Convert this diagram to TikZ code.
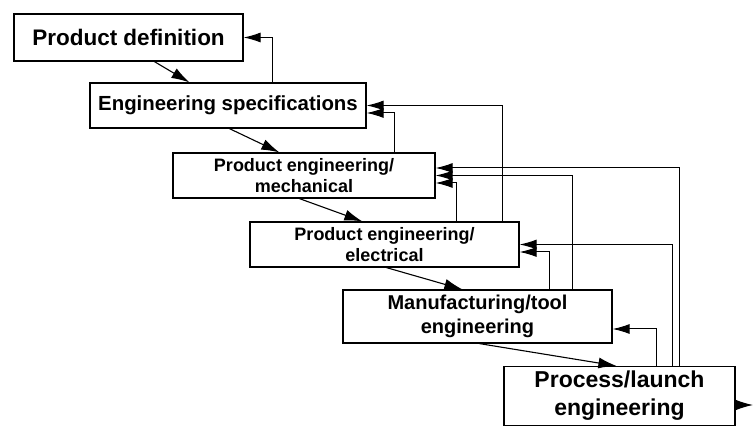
\documentclass[tikz,border=0pt]{standalone}
\usepackage{fontspec}
\setmainfont{Liberation Sans}
\usetikzlibrary{arrows.meta,calc}
\begin{document}
\begin{tikzpicture}[x=1pt,y=-1pt,
  stagebox/.style={draw,line width=1.2pt,inner sep=0pt,align=center,font=\bfseries},
  flow/.style={line width=1.1pt,-{Latex[length=18pt,width=11pt]}},
  back/.style={line width=1pt,-{Latex[length=17pt,width=10pt]}}]
\useasboundingbox (0,0) rectangle (753,427);
\node[stagebox,minimum width=229pt,minimum height=47pt,font=\bfseries\fontsize{22.5}{26}\selectfont] (PD) at (128.5,37.5) {Product definition};
\node[stagebox,minimum width=276pt,minimum height=45pt,font=\bfseries\fontsize{20.4}{23}\selectfont] (ES) at (228,105.5) {Engineering specifications};
\node[stagebox,minimum width=262pt,minimum height=45pt,font=\bfseries\fontsize{18}{21.5}\selectfont] (PEM) at (304,175.5) {Product engineering/\\mechanical};
\node[stagebox,minimum width=269pt,minimum height=45pt,font=\bfseries\fontsize{18}{21.5}\selectfont] (PEE) at (384.5,244.5) {Product engineering/\\electrical};
\node[stagebox,minimum width=269pt,minimum height=53pt,font=\bfseries\fontsize{20}{23.5}\selectfont] (MT) at (477.5,316.5) {Manufacturing/tool\\engineering};
\node[stagebox,minimum width=231pt,minimum height=59pt,font=\bfseries\fontsize{23}{28}\selectfont] (PL) at (619.5,396) {Process/launch\\engineering};
\coordinate (out) at (753,405);
% forward flow
\draw[flow] ([xshift=141pt]PD.south west) -- ([xshift=100pt]ES.north west);
\draw[flow] ([xshift=140pt]ES.south west) -- ([xshift=107pt]PEM.north west);
\draw[flow] ([xshift=127pt]PEM.south west) -- ([xshift=113pt]PEE.north west);
\draw[flow] ([xshift=137pt]PEE.south west) -- ([xshift=120pt]MT.north west);
\draw[flow] ([xshift=137pt]MT.south west) -- ([xshift=113pt]PL.north west);
\draw[flow] (PL.east |- out) -- (out);
% feedback
\draw[back] ([xshift=183pt]ES.north west) |- (PD.east);
\draw[back] ([xshift=253pt]PEE.north west) |- (ES.east);
\draw[back] ([xshift=222pt]PEM.north west) |- ([yshift=-7.5pt]ES.east);
\draw[back] ([xshift=176pt]PL.north west) |- ([yshift=7.5pt]PEM.east);
\draw[back] ([xshift=230pt]MT.north west) |- (PEM.east);
\draw[back] ([xshift=207pt]PEE.north west) |- ([yshift=-7.5pt]PEM.east);
\draw[back] ([xshift=169pt]PL.north west) |- (PEE.east);
\draw[back] ([xshift=207pt]MT.north west) |- ([yshift=-7.5pt]PEE.east);
\draw[back] ([xshift=153pt]PL.north west) |- ([yshift=-12.5pt]MT.east);
\end{tikzpicture}
\end{document}
